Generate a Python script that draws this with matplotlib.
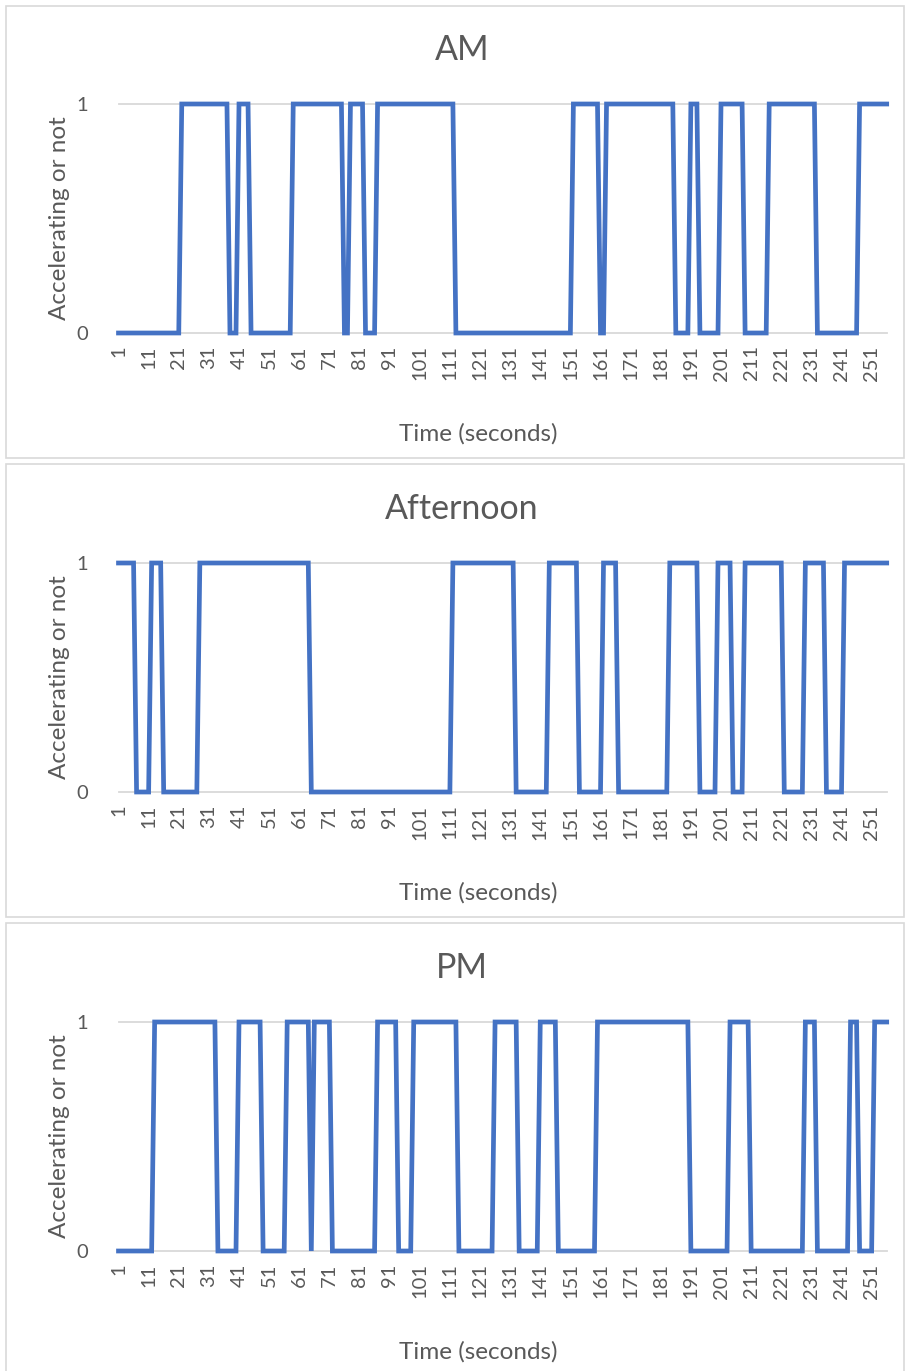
import matplotlib
matplotlib.use("Agg")
import matplotlib.pyplot as plt
from matplotlib.patches import Rectangle
import numpy as np

plt.rcParams['font.family'] = ['Lato', 'DejaVu Sans']

# ---- data ----
n_seconds = 256
titles = ["AM", "Afternoon", "PM"]
# first value of each series, and the seconds at which the value flips
am_start = 0
am_flips = [22, 38, 41, 45, 59, 76, 78, 83, 87, 113, 152, 161, 163, 186, 191,
            194, 201, 209, 217, 233, 247]
aft_start = 1
aft_flips = [7, 12, 16, 28, 65, 112, 133, 144, 154, 162, 167, 184, 194, 200,
             205, 209, 222, 229, 236, 242]
pm_start = 0
pm_flips = [13, 34, 41, 49, 57, 65, 66, 72, 87, 94, 99, 114, 126, 134, 141,
            147, 160, 191, 204, 211, 229, 233, 244, 247, 252]
tick_labels = [str(v) for v in range(1, 252, 10)]
y_ticks = [0, 1]


def build_series(start, flips, n):
    vals = []
    cur = start
    fl = set(flips)
    for t in range(1, n + 1):
        if t in fl:
            cur = 1 - cur
        vals.append(cur)
    return np.array(vals)


series = [build_series(am_start, am_flips, n_seconds),
          build_series(aft_start, aft_flips, n_seconds),
          build_series(pm_start, pm_flips, n_seconds)]
t = np.arange(1, n_seconds + 1)

W, H = 906, 1371
fig = plt.figure(figsize=(W / 100, H / 100), dpi=100)
fig.patch.set_facecolor("white")

txt = "#595959"
grid = "#D9D9D9"
blue = "#4472C4"

box_tops = [6, 464, 923]
box_bots = [458, 917, 1375]
x_left, x_right = 118.5, 886.7

for i in range(3):
    off = 459 * i
    y1 = 104 + off
    y0 = 333 + off
    # chart border
    fig.patches.append(Rectangle((6 / W, 1 - box_bots[i] / H), (904 - 6) / W,
                                 (box_bots[i] - box_tops[i]) / H,
                                 transform=fig.transFigure, fill=False,
                                 edgecolor=grid, linewidth=1.2))
    ax = fig.add_axes([x_left / W, 1 - y0 / H, (x_right - x_left) / W, (y0 - y1) / H])
    ax.set_xlim(1, n_seconds)
    ax.set_ylim(0, 1)
    for yv in y_ticks:
        ax.axhline(yv, color=grid, linewidth=1.3, zorder=1, clip_on=False)
    ax.plot(t, series[i], color=blue, linewidth=3.4, zorder=3, clip_on=False,
            solid_joinstyle="miter")
    for s in ax.spines.values():
        s.set_visible(False)
    ax.set_xticks(range(1, 252, 10))
    ax.set_xticklabels(tick_labels, rotation=90, color=txt, fontsize=14.5)
    ax.set_yticks(y_ticks)
    ax.set_yticklabels([str(v) for v in y_ticks], color=txt, fontsize=14.5)
    ax.tick_params(length=0, pad=9)
    ax.tick_params(axis='y', pad=22)
    ax.set_facecolor("none")

    fig.text(462 / W, 1 - (50 + off) / H, titles[i], ha="center", va="center",
             fontsize=24.5, color=txt)
    fig.text(478 / W, 1 - (434 + off) / H, "Time (seconds)", ha="center",
             va="center", fontsize=17.5, color=txt)
    fig.text(60 / W, 1 - (218 + off) / H, "Accelerating or not", ha="center",
             va="center", rotation=90, fontsize=17.5, color=txt)

fig.savefig("out.png", dpi=100, facecolor="white")
